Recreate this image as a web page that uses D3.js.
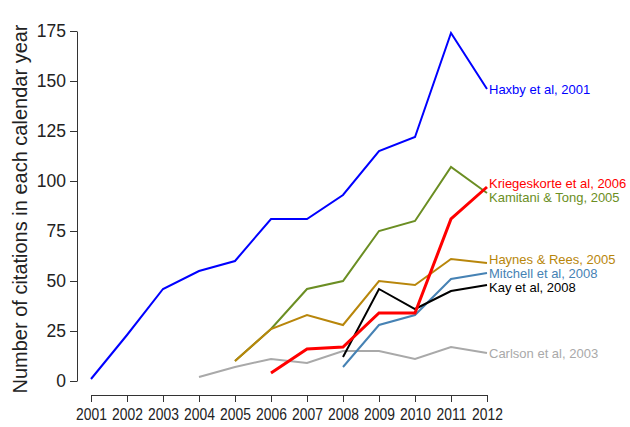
<!DOCTYPE html>
<html>
<head>
<meta charset="utf-8">
<script src="https://cdn.jsdelivr.net/npm/d3@7"></script>
<style>
  html, body { margin: 0; padding: 0; background: #fff; }
  svg { display: block; font-family: "Liberation Sans", Arial, sans-serif; }
</style>
</head>
<body>
<svg id="chart" width="630" height="427"></svg>
<script>
// Citations per calendar year for a set of MVPA papers
const years = [2001, 2002, 2003, 2004, 2005, 2006, 2007, 2008, 2009, 2010, 2011, 2012];
const yTicks = [0, 25, 50, 75, 100, 125, 150, 175];

const seriesNames = [
  "Carlson et al, 2003",
  "Haxby et al, 2001",
  "Kamitani & Tong, 2005",
  "Haynes & Rees, 2005",
  "Mitchell et al, 2008",
  "Kay et al, 2008",
  "Kriegeskorte et al, 2006"
];
const seriesColors = ["#a9a9a9", "#0000ff", "#6b8e23", "#b8860b", "#4682b4", "#000000", "#ff0000"];
const seriesWidths = [2, 2, 2, 2, 2, 2, 3];

// null = paper not yet published / no count
const carlson      = [null, null, null, 2, 7, 11, 9, 15, 15, 11, 17, 14];
const haxby        = [1, 23, 46, 55, 60, 81, 81, 93, 115, 122, 174, 146];
const kamitani     = [null, null, null, null, 10, 26, 46, 50, 75, 80, 107, 94];
const haynes       = [null, null, null, null, 10, 26, 33, 28, 50, 48, 61, 59];
const mitchell     = [null, null, null, null, null, null, null, 7, 28, 33, 51, 54];
const kay          = [null, null, null, null, null, null, null, 12, 46, 36, 45, 48];
const kriegeskorte = [null, null, null, null, null, 4, 16, 17, 34, 34, 81, 97];

const seriesValues = [carlson, haxby, kamitani, haynes, mitchell, kay, kriegeskorte];

const svg = d3.select("#chart");

const x = d3.scaleLinear().domain([2001, 2012]).range([91, 487]);
const y = d3.scaleLinear().domain([0, 175]).range([381, 31]);

const axisColor = "#333";

// y axis
const yAxis = svg.append("g")
  .attr("transform", "translate(77,0)")
  .call(d3.axisLeft(y).tickValues(yTicks).tickSize(7).tickSizeOuter(0).tickPadding(4).tickFormat(d3.format("d")));
yAxis.select(".domain").attr("stroke", axisColor);
yAxis.selectAll(".tick line").attr("stroke", axisColor);
yAxis.selectAll(".tick text")
  .attr("font-size", 17.5)
  .attr("fill", "#222")
  .attr("font-family", "'Liberation Sans', Arial, sans-serif");

// x axis
const xAxis = svg.append("g")
  .attr("transform", "translate(0,395)")
  .call(d3.axisBottom(x).tickValues(years).tickSize(7).tickSizeOuter(0).tickPadding(4).tickFormat(d3.format("d")));
xAxis.select(".domain").attr("stroke", axisColor);
xAxis.selectAll(".tick line").attr("stroke", axisColor);
xAxis.selectAll(".tick text")
  .attr("font-size", 16.5)
  .attr("fill", "#222")
  .attr("font-family", "'Liberation Sans', Arial, sans-serif")
  .attr("y", 0)
  .attr("dy", 0)
  .attr("transform", "translate(0,25) scale(0.84,1)");

// y axis title
svg.append("text")
  .attr("transform", "translate(27,209) rotate(-90)")
  .attr("text-anchor", "middle")
  .attr("font-size", 20)
  .attr("fill", "#222")
  .text("Number of citations in each calendar year");

// lines
const line = d3.line()
  .defined(d => d.v !== null)
  .x(d => x(d.year))
  .y(d => y(d.v));

const series = seriesNames.map((name, i) => ({
  name,
  color: seriesColors[i],
  width: seriesWidths[i],
  points: years.map((yr, j) => ({ year: yr, v: seriesValues[i][j] }))
}));

svg.append("g").selectAll("path")
  .data(series)
  .join("path")
  .attr("fill", "none")
  .attr("stroke", d => d.color)
  .attr("stroke-width", d => d.width)
  .attr("stroke-linejoin", "miter")
  .attr("d", d => line(d.points));

// end labels, nudged apart so they do not overlap
const labelGap = 14;
const labels = series.map(s => {
  const last = s.points.filter(p => p.v !== null).slice(-1)[0];
  return { name: s.name, color: s.color, x: x(last.year), y0: y(last.v), y: y(last.v) };
}).sort((a, b) => a.y0 - b.y0);

for (let iter = 0; iter < 200; iter++) {
  let moved = false;
  for (let i = 1; i < labels.length; i++) {
    const a = labels[i - 1], b = labels[i];
    const overlap = labelGap - (b.y - a.y);
    if (overlap > 0.01) {
      a.y -= overlap / 2;
      b.y += overlap / 2;
      moved = true;
    }
  }
  if (!moved) break;
}

svg.append("g").selectAll("text")
  .data(labels)
  .join("text")
  .attr("x", d => d.x + 2)
  .attr("y", d => d.y)
  .attr("dy", "0.35em")
  .attr("font-size", 13)
  .attr("fill", d => d.color)
  .text(d => d.name);
</script>
</body>
</html>
